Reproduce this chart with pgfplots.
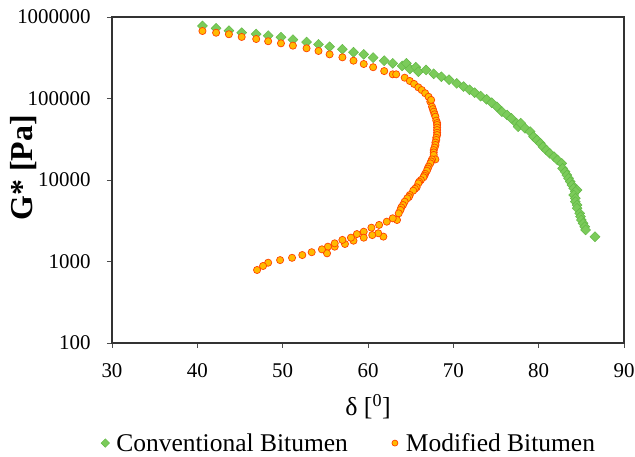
\documentclass[border=0pt]{standalone}
\usepackage{pgfplots}
\pgfplotsset{compat=1.18}
\usepackage{fontspec}
\setmainfont{Liberation Serif}
\definecolor{gfill}{HTML}{7BCB5A}
\definecolor{gdraw}{HTML}{62B845}
\definecolor{ofill}{HTML}{FFBA00}
\definecolor{odraw}{HTML}{FF4400}
\pgfplotstableread{
x y
40.6 776000
42.2 726000
43.7 679000
45.2 641000
46.9 618000
48.3 590000
49.8 564000
51.2 527000
52.8 493000
54.2 462000
55.5 432000
57.0 402000
58.3 369000
59.5 348000
60.6 317000
61.9 291000
62.9 270000
64.0 251000
64.5 270000
64.9 230000
65.6 242000
65.9 213000
66.8 224000
67.7 201000
68.6 185000
69.5 170000
70.4 153000
71.2 140000
71.9 128000
72.5 118000
73.2 107000
73.9 97700
74.5 88700
75.1 79300
75.7 68900
76.3 62800
76.8 57100
77.4 49700
77.6 45100
77.9 49700
78.4 43100
79.0 39200
79.4 34000
79.8 31000
80.2 28200
80.5 25600
80.9 23300
81.3 21200
81.8 19300
82.2 17600
82.7 16000
82.8 13900
83.1 12600
83.3 11500
83.5 10500
83.7 9550
83.9 8690
84.1 7910
84.5 7530
84.3 7190
84.1 6550
84.3 5960
84.3 5420
84.5 4930
84.5 4500
84.8 3900
84.9 3550
85.0 3230
85.2 2940
85.4 2670
85.5 2440
86.6 2010
}\conv
\pgfplotstableread{
x y
40.6 673000
42.2 641000
43.7 614000
45.2 569000
46.9 537000
48.3 504000
49.8 475000
51.2 445000
52.8 413000
54.2 383000
55.5 348000
57.0 320000
58.3 291000
59.5 265000
60.6 242000
61.9 217000
62.9 198000
63.3 198000
64.3 180000
64.9 164000
65.4 151000
65.9 137000
66.3 127000
66.7 116000
67.1 105000
67.3 91400
67.4 96000
67.5 79400
67.6 74000
67.7 68900
67.8 64000
67.9 59800
68.0 53500
68.1 50000
68.1 47300
68.1 44000
68.1 41000
68.1 38000
68.1 35600
68.0 33000
68.0 31000
67.9 28800
67.9 26900
67.8 25000
67.7 23300
67.7 21800
67.7 20300
67.9 17900
67.5 17900
67.4 16900
67.3 16000
67.1 14600
67.0 13800
66.9 13000
66.7 11900
66.6 11300
66.5 10800
66.2 10000
66.0 9500
65.9 9100
65.7 8130
65.5 7800
65.3 7400
64.9 6550
64.8 6200
64.6 5960
64.3 5420
64.1 4930
63.9 4600
63.8 4290
63.6 3900
63.4 3230
62.9 3390
62.2 3080
61.3 2810
61.8 2020
61.2 2220
60.5 2110
60.4 2600
59.5 2320
59.5 1960
58.7 2170
58.3 1800
58.0 1960
57.3 1640
57.0 1840
56.1 1520
56.1 1670
55.3 1520
55.2 1260
54.6 1410
53.4 1300
52.3 1200
51.1 1110
49.7 1040
48.3 966
47.7 881
47.0 787
}\modi
\begin{document}
\begin{tikzpicture}
\begin{axis}[name=ax, scale only axis, width=512bp, height=326bp,
 xmin=30, xmax=90, ymode=log, ymin=100, ymax=1000000,
 xtick={30,40,...,90}, ytick={100,1000,10000,100000,1000000},
 yticklabels={100,1000,10000,100000,1000000},
 yminorticks=false, tick align=outside, xtick pos=bottom, ytick pos=left,
 major tick length=5bp, tick style={black!70, line width=0.8bp},
 axis line style={black!80, line width=1.2bp},
 /pgf/number format/assume math mode=true,
 ticklabel style={font=\fontsize{21}{23}\selectfont},
 yticklabel style={xshift=-13bp},
 xticklabel style={yshift=-12bp},
 xlabel={δ [\textsuperscript{0}]}, ylabel={\textbf{G* [Pa]}},
 xlabel style={font=\fontsize{26}{28}\selectfont, at={(axis description cs:0.5,-0.196)}, anchor=center},
 ylabel style={font=\fontsize{32}{34}\selectfont, at={(axis description cs:-0.172,0.537)}, anchor=center},
 legend style={at={(axis description cs:0.463,-0.307)}, anchor=center, draw=none, fill=none,
   legend columns=2, font=\fontsize{25.6}{27}\selectfont,
   /tikz/every even column/.append style={column sep=42bp}},
 legend cell align=left,
 legend image code/.code={\path[draw=none, fill=none] (-3bp,0bp) rectangle (9bp,0.1bp); \draw[#1, mark size=3bp] plot coordinates {(0bp,0bp)};},
]
\addplot[only marks, mark=square*, mark size=3.5bp, mark options={rotate=45, fill=gfill, draw=gdraw, line width=0.5bp}] table {\conv};
\addlegendentry{Conventional Bitumen}
\addplot[only marks, mark=*, mark size=3.6bp, mark options={fill=ofill, draw=odraw, line width=0.7bp}] table {\modi};
\addlegendentry{Modified Bitumen}
\end{axis}
\pgfresetboundingbox
\path[use as bounding box] ([xshift=-112bp,yshift=-114bp]ax.south west) rectangle ([xshift=11bp,yshift=17bp]ax.north east);
\end{tikzpicture}
\end{document}
